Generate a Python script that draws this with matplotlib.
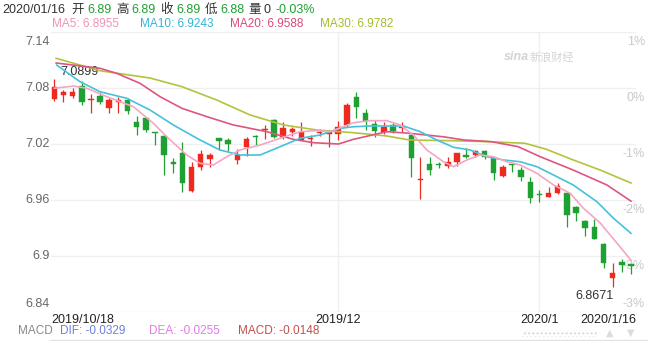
import matplotlib
matplotlib.use("Agg")
import matplotlib.pyplot as plt
from matplotlib.patches import Rectangle

# ======================
# DATA
# ======================
opens = [7.068, 7.0725, 7.0714, 7.082, 7.067, 7.0714, 7.059, 7.0653, 7.067, 7.044,
         7.0475, 7.0316, 7.0286, 7.001, 7.010, 6.9696, 6.9957, 7.0036, 7.0261, 7.0243,
         7.0029, 7.0165, 7.028, 7.0345, 7.0457, 7.0278, 7.0332, 7.0243, 7.025, 7.0315,
         7.031, 7.0307, 7.040, 7.0707, 7.0535, 7.0414, 7.0332, 7.040, 7.037, 7.0297,
         6.981, 6.999, 6.998, 6.9964, 7.001, 7.0068, 7.0082, 7.0125, 7.0047, 6.9857,
         6.998, 6.992, 6.9796, 6.9657, 6.9636, 6.967, 6.967, 6.9528, 6.9375, 6.9307,
         6.9125, 6.876, 6.894, 6.890]
highs = [7.0899, 7.078, 7.080, 7.088, 7.074, 7.076, 7.069, 7.070, 7.069, 7.050,
         7.0486, 7.033, 7.0297, 7.0047, 7.0225, 7.001, 7.0136, 7.010, 7.0265, 7.026,
         7.0143, 7.028, 7.0297, 7.040, 7.0465, 7.044, 7.0385, 7.044, 7.0297, 7.0357,
         7.035, 7.0446, 7.0643, 7.076, 7.057, 7.0457, 7.044, 7.0428, 7.044, 7.0315,
         7.0064, 7.0064, 7.001, 7.0064, 7.0107, 7.0154, 7.0136, 7.0136, 7.0064, 6.9975,
         6.9993, 6.995, 6.985, 6.9707, 6.974, 6.978, 6.969, 6.9536, 6.9386, 6.9393,
         6.9136, 6.8928, 6.8965, 6.8905]
lows = [7.066, 7.065, 7.069, 7.062, 7.0535, 7.0625, 7.053, 7.0535, 7.052, 7.0297,
        7.033, 7.019, 6.9868, 6.9886, 6.969, 6.969, 6.992, 6.9957, 7.0136, 7.0128,
        6.9986, 7.007, 7.019, 7.025, 7.026, 7.025, 7.0286, 7.0243, 7.018, 7.0286,
        7.017, 7.024, 7.0385, 7.0475, 7.035, 7.027, 7.0307, 7.032, 7.0332, 6.985,
        6.9607, 6.987, 6.994, 6.994, 6.9964, 7.0046, 7.0064, 7.0036, 6.9814, 6.985,
        6.990, 6.9807, 6.957, 6.958, 6.9636, 6.9664, 6.9314, 6.937, 6.9214, 6.918,
        6.8868, 6.8671, 6.883, 6.8805]
closes = [7.081, 7.076, 7.076, 7.065, 7.068, 7.0653, 7.067, 7.066, 7.0557, 7.0385,
          7.035, 7.0313, 7.0082, 6.9986, 6.9779, 6.995, 7.0093, 7.0082, 7.0236, 7.020,
          7.0082, 7.025, 7.0275, 7.0355, 7.0278, 7.037, 7.0357, 7.033, 7.0265, 7.033,
          7.032, 7.0385, 7.0618, 7.060, 7.045, 7.0343, 7.0385, 7.0343, 7.0385, 7.0047,
          6.982, 6.992, 6.9975, 7.001, 7.010, 7.0064, 7.0125, 7.0064, 6.9886, 6.9957,
          6.997, 6.985, 6.9618, 6.965, 6.9672, 6.975, 6.944, 6.9457, 6.930, 6.9182,
          6.8928, 6.882, 6.890, 6.8895]

# moving averages, read at points along each line (x = candle index)
ma5_idx = [0, 2.08, 3.54, 5.73, 8.63, 10.82, 12.28, 14.47, 15.92, 17.38, 18.84, 20.3,
           22.48, 24.67, 26.85, 28.68, 30.13, 32.68, 34.5, 36.33, 37.78, 39.23, 40.7,
           42.51, 43.6, 45.07, 46.52, 47.98, 49.44, 50.9, 52.72, 54.54, 56.36, 57.78,
           59.64, 61.46, 63]
ma5_val = [7.0797, 7.0821, 7.0797, 7.0707, 7.0600, 7.0422, 7.0278, 7.0082, 6.9993,
           6.9975, 7.0064, 7.0136, 7.0189, 7.0261, 7.0332, 7.0343, 7.0332, 7.0428,
           7.0450, 7.0450, 7.0404, 7.0296, 7.0136, 7.0010, 6.9957, 7.0029, 7.0082,
           7.0064, 7.0010, 6.9975, 6.9886, 6.9761, 6.9672, 6.9514, 6.9354, 6.9139, 6.8955]
ma10_idx = [0.26, 2.81, 4.99, 7.91, 10.46, 13.0, 15.92, 18.1, 20.3, 22.48, 24.67,
            26.85, 29.04, 31.22, 32.68, 34.5, 38.14, 39.97, 41.79, 43.61, 45.43,
            47.26, 49.07, 50.9, 52.72, 54.54, 56.69, 59.28, 61.06, 63]
ma10_val = [7.1046, 7.0868, 7.0760, 7.0690, 7.0564, 7.0404, 7.0243, 7.0136, 7.0082,
            7.0082, 7.0171, 7.0261, 7.0296, 7.0368, 7.0385, 7.0393, 7.0393, 7.0332,
            7.0243, 7.0165, 7.0136, 7.0064, 7.0029, 7.0010, 6.9957, 6.9868, 6.9761,
            6.9582, 6.9407, 6.9243]
ma20_idx = [0.2, 5.0, 6.82, 9.37, 11.55, 13.95, 16.66, 19.56, 23.21, 26.12, 28.31,
            31.04, 32.68, 36.33, 38.8, 42.45, 44.78, 47.76, 50.68, 53.08, 56.69, 60.37, 63]
ma20_val = [7.1068, 7.1011, 7.0957, 7.0850, 7.0707, 7.0582, 7.0493, 7.0404, 7.0332,
            7.0250, 7.0214, 7.0200, 7.0250, 7.0332, 7.0315, 7.0278, 7.0243, 7.0225,
            7.0171, 7.0064, 6.9921, 6.9761, 6.9588]
ma30_idx = [0.2, 5.0, 10.46, 13.95, 17.75, 21.39, 25.03, 28.68, 32.68, 36.33, 38.8,
            43.61, 47.26, 51.41, 53.74, 56.69, 59.64, 63]
ma30_val = [7.1118, 7.0985, 7.0907, 7.0814, 7.0671, 7.0511, 7.0404, 7.0350, 7.0321,
            7.0286, 7.0243, 7.0235, 7.0225, 7.0208, 7.0144, 7.0029, 6.9921, 6.9782]

price_ticks = [7.14, 7.08, 7.02, 6.96, 6.9, 6.84]
price_labels = ["7.14", "7.08", "7.02", "6.96", "6.9", "6.84"]
pct_labels = ["1%", "0%", "-1%", "-2%", "-3%", "-3%"]
date_idx = [0, 31, 53, 63]
date_labels = ["2019/10/18", "2019/12", "2020/1", "2020/1/16"]

# ======================
# STYLE
# ======================
RED = "#ec2a1f"
GREEN = "#1fa032"
C_MA5 = "#f5a6c3"
C_MA10 = "#45c1dc"
C_MA20 = "#df5582"
C_MA30 = "#b5c23c"
GRID = "#efefef"
FONT = ["Liberation Sans", "Noto Sans CJK SC", "DejaVu Sans"]
plt.rcParams["font.family"] = FONT

W, H = 648, 341
fig = plt.figure(figsize=(W / 100, H / 100), dpi=100)
ax = fig.add_axes([51 / W, 1 - 312 / H, 585 / W, 280 / H])
ax.set_xlim(-0.36, 63.55)
ax.set_ylim(6.84, 7.14)
for s in ax.spines.values():
    s.set_visible(False)
ax.set_xticks([])
ax.set_yticks([])


def fx(x):
    return x / W


def fy(y):
    return 1 - y / H


# grid
for p in price_ticks:
    ax.axhline(p, color="#e4e4e4" if p == 6.84 else GRID, lw=0.9, zorder=0)
for i in date_idx[1:3]:
    ax.axvline(i, color=GRID, lw=0.9, zorder=0)

# candles
for i in range(len(opens)):
    o, h, l, c = opens[i], highs[i], lows[i], closes[i]
    col = RED if c >= o else GREEN
    ax.vlines(i, l, h, color=col, lw=0.9, zorder=2)
    ax.bar(i, max(abs(c - o), 0.0015), bottom=min(o, c), width=0.6,
           color=col, edgecolor=col, lw=0.3, zorder=3)

# moving averages
ax.plot(ma30_idx, ma30_val, color=C_MA30, lw=1.2, zorder=4)
ax.plot(ma20_idx, ma20_val, color=C_MA20, lw=1.2, zorder=4)
ax.plot(ma10_idx, ma10_val, color=C_MA10, lw=1.2, zorder=4)
ax.plot(ma5_idx, ma5_val, color=C_MA5, lw=1.2, zorder=4)

# max / min labels
imax = highs.index(max(highs))
imin = lows.index(min(lows))
ax.annotate(f"{max(highs):.4f}", xy=(imax, max(highs)), xytext=(6, 7),
            textcoords="offset pixels", ha="left", va="center",
            fontsize=9, color="#333333")
ax.annotate(f"{min(lows):.4f}", xy=(imin, min(lows)), xytext=(1, -9),
            textcoords="offset pixels", ha="right", va="center",
            fontsize=9, color="#333333")

# y labels, left (price) and right (percent)
for k, (p, lab, pl) in enumerate(zip(price_ticks, price_labels, pct_labels)):
    if k == 0:
        va, dy = "top", -4
    elif k == len(price_ticks) - 1:
        va, dy = "bottom", 2
    else:
        va, dy = "center", 0
    ax.annotate(lab, xy=(50 / W, p), xycoords=("figure fraction", "data"),
                xytext=(0, dy), textcoords="offset pixels",
                ha="right", va=va, fontsize=9, color="#666666")
    pva, pdy = ("bottom", 2) if k == len(price_ticks) - 1 else ("top", -4)
    ax.annotate(pl, xy=(645 / W, p), xycoords=("figure fraction", "data"),
                xytext=(0, pdy), textcoords="offset pixels",
                ha="right", va=pva, fontsize=9, color="#c8c8c8", zorder=1)

# date labels
date_ha = ["left", "center", "center", "right"]
for i, lab, ha in zip(date_idx, date_labels, date_ha):
    x = -0.33 if ha == "left" else (63.55 if ha == "right" else i)
    ax.annotate(lab, xy=(x, fy(320)), xycoords=("data", "figure fraction"),
                ha=ha, va="center", fontsize=9, color="#222222",
                annotation_clip=False)

# header
hdr = [(2, "2020/01/16", "#333333"), (71, "开", "#333333"), (87, "6.89", GREEN),
       (116, "高", "#333333"), (131, "6.89", GREEN), (160, "收", "#333333"),
       (176, "6.89", GREEN), (205, "低", "#333333"), (220, "6.88", GREEN),
       (248, "量", "#333333"), (263, "0", "#333333"), (275, "-0.03%", GREEN)]
for x, t, c in hdr:
    fig.text(fx(x), fy(10), t, ha="left", va="center", fontsize=9, color=c)

ma_hdr = [(52, "MA5: 6.8955", "#f291b8"), (140, "MA10: 6.9243", "#33b4d6"),
          (230, "MA20: 6.9588", "#d94a7b"), (320, "MA30: 6.9782", "#a6bb2a")]
for x, t, c in ma_hdr:
    fig.text(fx(x), fy(24), t, ha="left", va="center", fontsize=8.5, color=c)

# watermark
fig.text(fx(504), fy(57), "sina", ha="left", va="center", fontsize=9,
         style="italic", weight="bold", color="#d4d4d4")
fig.text(fx(530), fy(57), "新浪财经", ha="left", va="center", fontsize=8,
         color="#d4d4d4")

# MACD row
fig.text(fx(18), fy(331), "MACD", ha="left", va="center", fontsize=8.5, color="#888888")
fig.text(fx(60), fy(331), "DIF: -0.0329", ha="left", va="center", fontsize=8.5, color="#6c7fe0")
fig.text(fx(149), fy(331), "DEA: -0.0255", ha="left", va="center", fontsize=8.5, color="#e07ce6")
fig.text(fx(238), fy(331), "MACD: -0.0148", ha="left", va="center", fontsize=8.5, color="#c0504d")
fig.add_artist(plt.Line2D([fx(50), 1], [fy(339.5), fy(339.5)], color="#e2e2e2", lw=0.9))

# little scroll controls bottom right
fig.add_artist(Rectangle((fx(522), fy(337)), fx(75), 7 / H, fill=False,
                         hatch="....", edgecolor="#dadada", lw=0))
fig.text(fx(610), fy(333), "▲", ha="center", va="center", fontsize=7,
         color="#dddddd", family="DejaVu Sans")
fig.text(fx(631), fy(333), "▼", ha="center", va="center", fontsize=7,
         color="#dddddd", family="DejaVu Sans")

fig.savefig("out.png", dpi=100, facecolor="white")
